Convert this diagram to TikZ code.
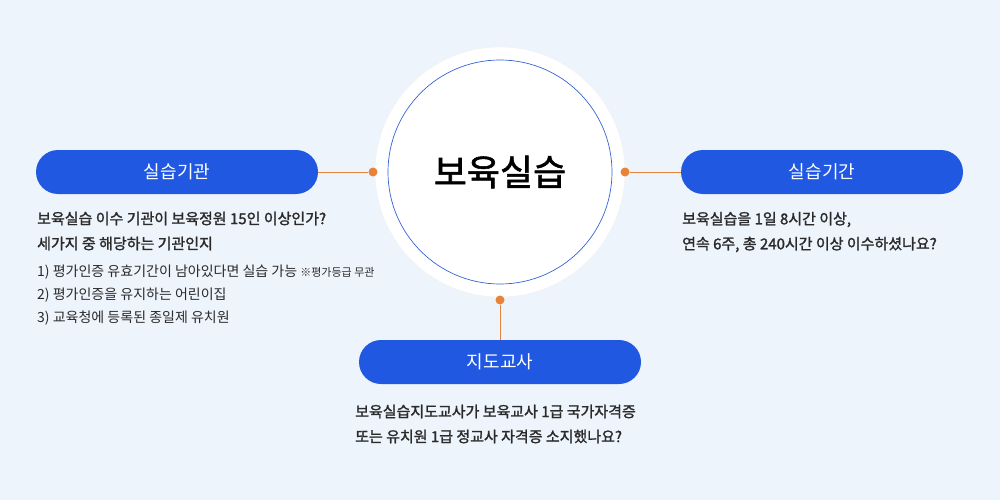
\documentclass[tikz,border=0pt]{standalone}
\usepackage{fontspec}
\newfontfamily\kr{Noto Sans CJK KR}
\newfontfamily\krb{Noto Sans CJK KR}[FakeBold=1.5]
\definecolor{bg}{HTML}{EEF4FC}
\definecolor{pill}{HTML}{2058E2}
\definecolor{org}{HTML}{E8843A}
\definecolor{txt}{HTML}{2A2A2A}
\definecolor{ring}{HTML}{3563D6}
\begin{document}
\begin{tikzpicture}[x=1pt,y=-1pt,
  pillbox/.style={rounded corners=22pt,fill=pill,minimum width=282pt,minimum height=44pt,text=white,font=\kr\fontsize{18}{20}\selectfont},
  dot/.style={circle,fill=org,inner sep=0pt,minimum size=9pt},
  conn/.style={org,line width=0.8pt},
  bold/.style={anchor=west,text=txt,font=\krb\fontsize{15}{25}\selectfont,align=left,inner sep=0pt},
  plain/.style={anchor=west,text=txt,font=\kr\fontsize{14}{23}\selectfont,align=left,inner sep=0pt}]
\fill[bg] (0,0) rectangle (1000,500);
\useasboundingbox (0,0) rectangle (1000,500);
\node[circle,fill=white,draw=black!6,minimum size=250pt,inner sep=0pt] (outer) at (500,172) {};
\node[circle,draw=ring,line width=0.7pt,minimum size=224pt,inner sep=0pt] (inner) at (500,172) {};
\node[font=\krb\fontsize{36}{40}\selectfont,text=black] (title) at (500,172) {보육실습};
\node[pillbox] (p1) at (177,172) {실습기관};
\node[pillbox] (p2) at (822,172) {실습기간};
\node[pillbox] (p3) at (500,362) {지도교사};
\node[dot] (d1) at (373,172) {};
\node[dot] (d2) at (625,172) {};
\node[dot] (d3) at (500,300) {};
\draw[conn] (p1.east) -- (d1);
\draw[conn] (d2) -- (p2.west);
\draw[conn] (d3) -- (p3.north);
\node[bold] (t1) at (37,231) {보육실습 이수 기관이 보육정원 15인 이상인가?\\세가지 중 해당하는 기관인지};
\node[plain] (t2) at (37,295) {1) 평가인증 유효기간이 남아있다면 실습 가능 {\fontsize{11}{12}\selectfont ※평가등급 무관}\\2) 평가인증을 유지하는 어린이집\\3) 교육청에 등록된 종일제 유치원};
\node[bold] (t3) at (682,232) {보육실습을 1일 8시간 이상,\\연속 6주, 총 240시간 이상 이수하셨나요?};
\node[bold] (t4) at (355,424) {보육실습지도교사가 보육교사 1급 국가자격증\\또는 유치원 1급 정교사 자격증 소지했나요?};
\end{tikzpicture}
\end{document}
